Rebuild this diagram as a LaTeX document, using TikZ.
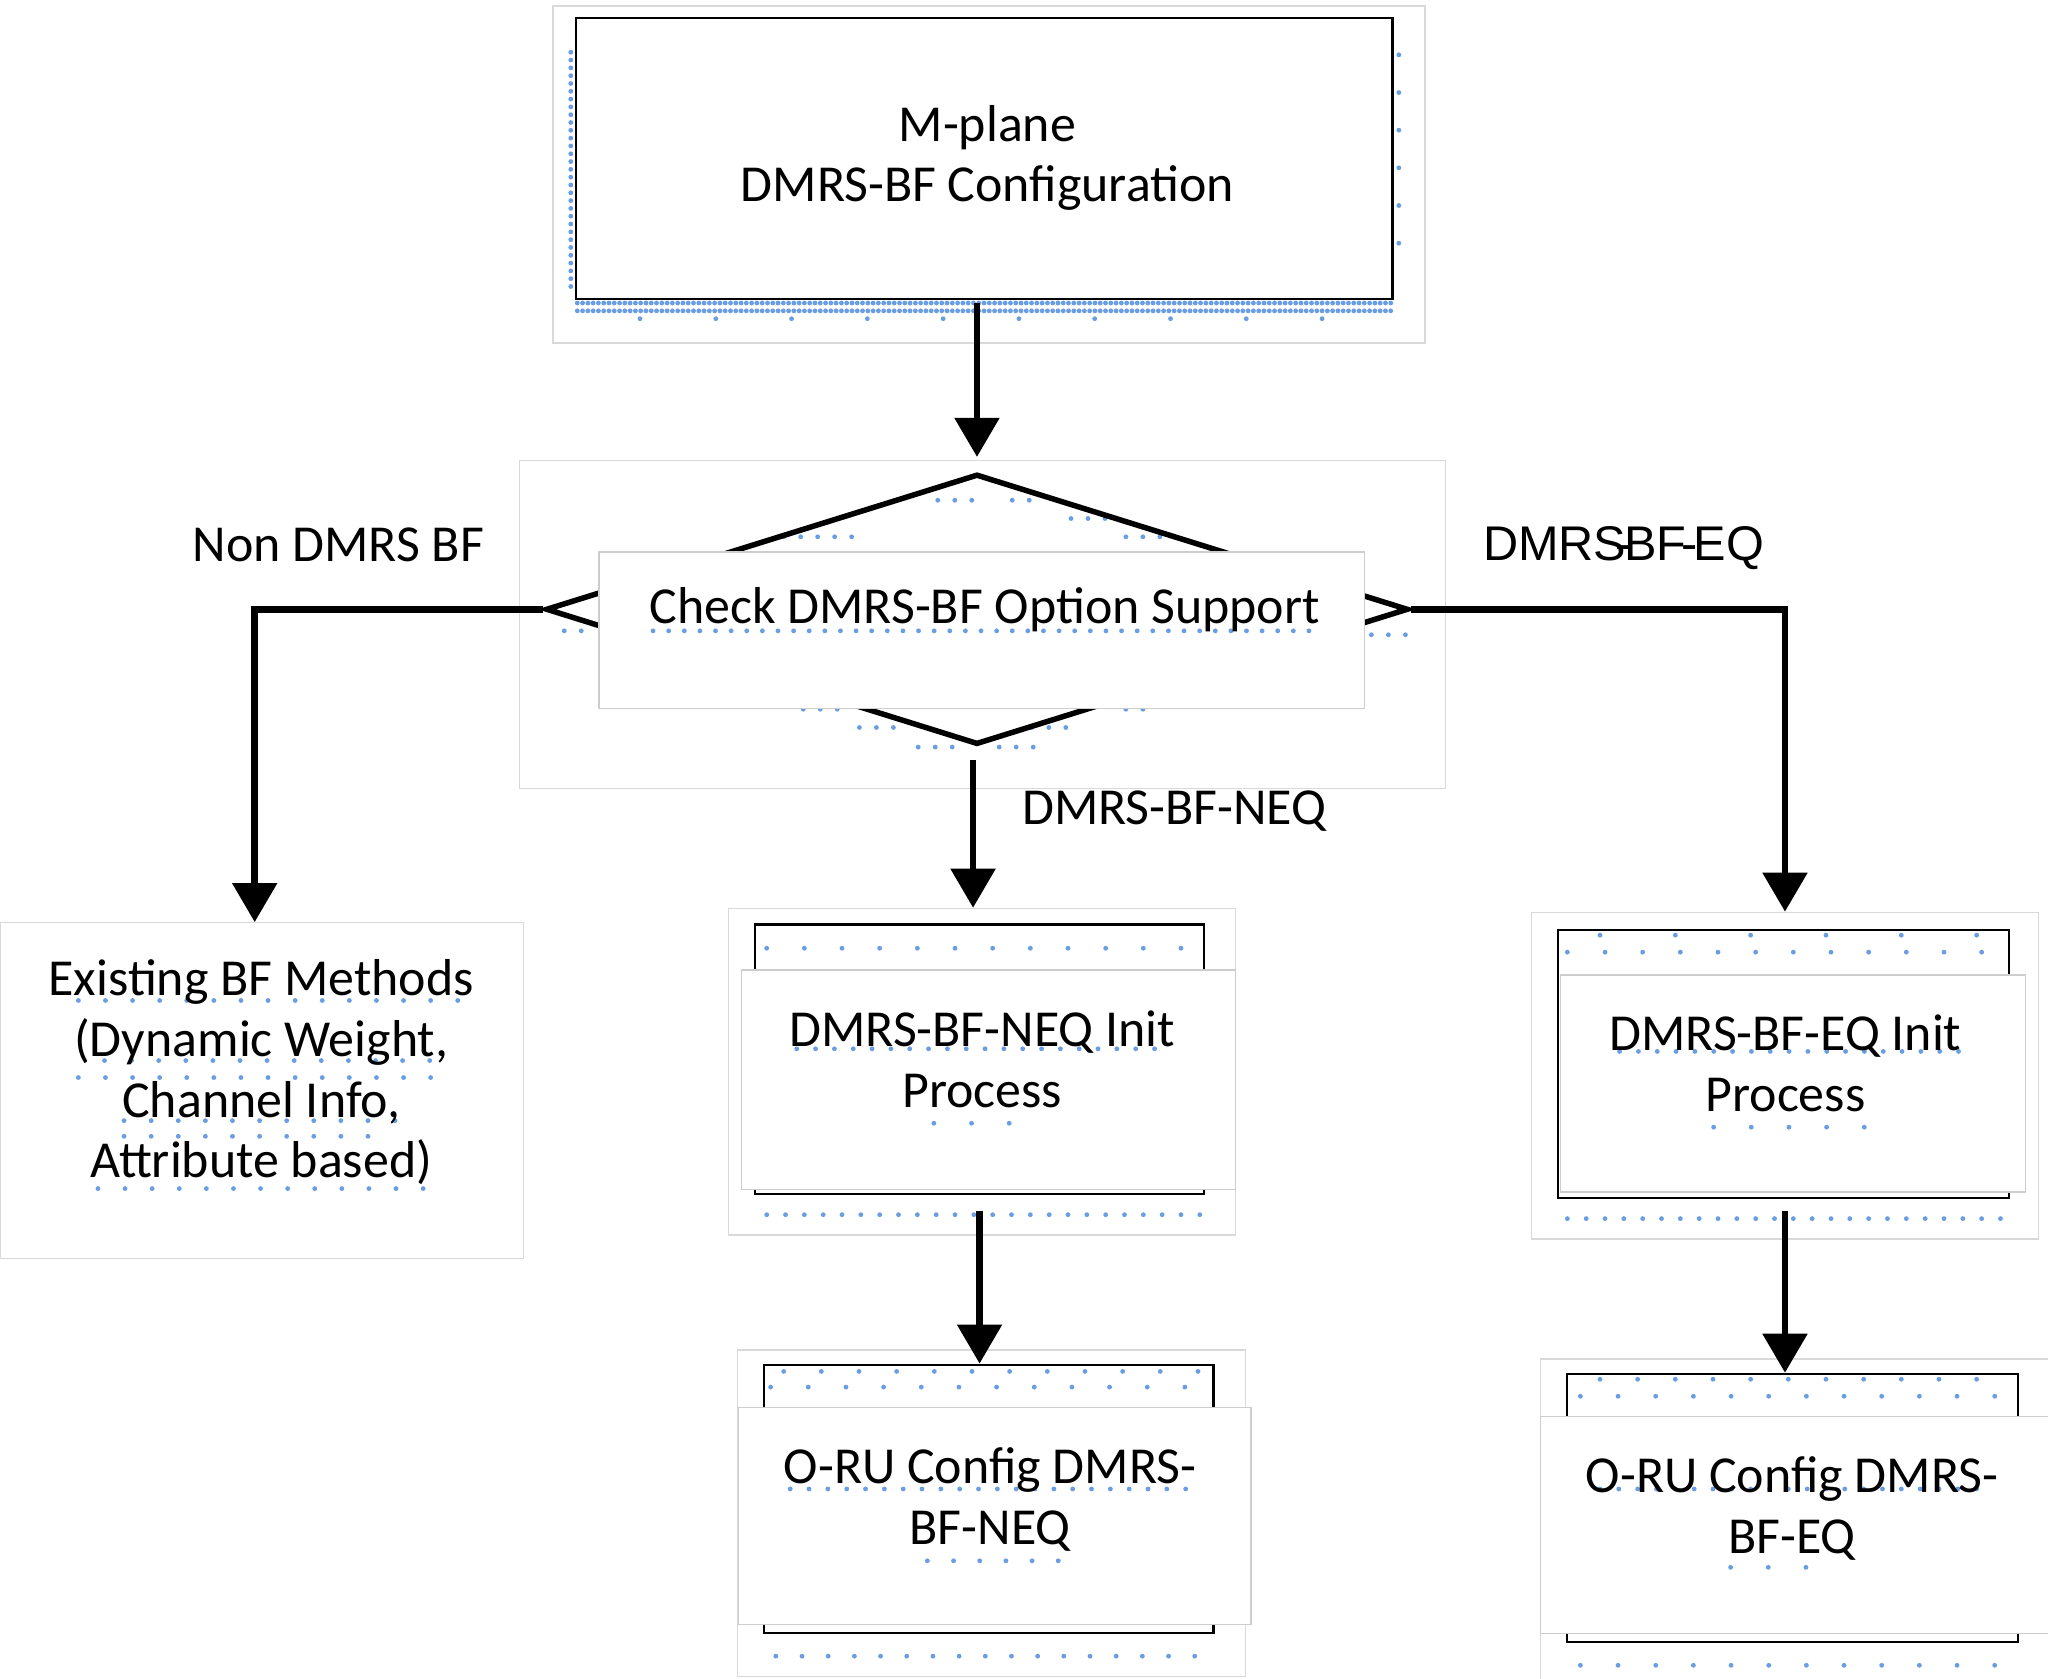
\documentclass[tikz,border=0pt]{standalone}
\usepackage{fontspec}
\setmainfont{Carlito}
\newfontfamily\arialfont{Liberation Sans}
\usetikzlibrary{shapes.geometric,arrows.meta,calc}
\definecolor{framegray}{RGB}{217,217,217}
\definecolor{covergray}{RGB}{205,205,205}
\definecolor{dotblue}{RGB}{105,158,226}
\begin{document}
\begin{tikzpicture}[x=0.01cm,y=-0.01cm,
  every node/.style={font=\fontsize{11.3}{13.2}\selectfont},
  frame/.style={draw=framegray,line width=0.3pt,fill=white,inner sep=0pt,anchor=north west},
  blackbox/.style={draw=black,line width=0.5pt,fill=white,inner sep=0pt,anchor=north west},
  cover/.style={draw=covergray,line width=0.3pt,fill=white,inner sep=0pt,anchor=north west},
  txt/.style={align=center,inner sep=0pt},
  conn/.style={line width=1.45pt,-{Triangle[width=9.5pt,length=8.5pt]}},
  lbl/.style={inner sep=0pt},
  dotrow/.style={draw=dotblue,line width=1.05pt,line cap=round,dash pattern=on 0pt off #1}]
\useasboundingbox (0,0) rectangle (1568,1285);

% ---- top box
\node[frame,minimum width=6.67cm,minimum height=2.58cm] (topf) at (423,4) {};
\draw[dotrow=1.15pt] (442,232) -- (1065,232);
\draw[dotrow=1.15pt] (442,238) -- (1065,238);
\draw[dotrow=16.5pt] (490,244) -- (1065,244);
\draw[dotrow=1.7pt] (437,40) -- (437,225);
\draw[dotrow=8.2pt] (1071,42) -- (1071,215);
\node[blackbox,minimum width=6.25cm,minimum height=2.15cm] (top) at (440,13) {};
\node[txt] (toptxt) at (756,121) {M-plane\\DMRS-BF Configuration};

% ---- decision
\node[frame,minimum width=7.09cm,minimum height=2.51cm] (decf) at (397,352) {};
\draw[dotrow=3.7pt] (718,383) -- (748,383);
\draw[dotrow=3.7pt] (775,383) -- (800,383);
\draw[dotrow=3.7pt] (820,397) -- (850,397);
\draw[dotrow=3.7pt] (600,411) -- (660,411);
\draw[dotrow=3.7pt] (862,411) -- (892,411);
\draw[dotrow=3.7pt] (615,543) -- (650,543);
\draw[dotrow=3.7pt] (658,557) -- (690,557);
\draw[dotrow=3.7pt] (790,557) -- (825,557);
\draw[dotrow=3.7pt] (862,543) -- (880,543);
\draw[dotrow=3.7pt] (703,572) -- (730,572);
\draw[dotrow=3.7pt] (765,572) -- (795,572);
\draw[dotrow=3.7pt] (432,483) -- (455,483);
\draw[dotrow=3.7pt] (1050,486) -- (1085,486);
\node[diamond,draw=black,line width=1.2pt,inner sep=0pt,minimum width=6.60cm,minimum height=2.07cm] (dia) at (748,466.5) {};
\node[cover,minimum width=5.86cm,minimum height=1.20cm] (decc) at (458,422) {};
\draw[dotrow=3.4pt] (500,483) -- (1010,483);
\node[txt] (dectxt) at (754,467) {Check DMRS-BF Option Support};

% ---- left box
\node[frame,minimum width=4.00cm,minimum height=2.57cm] (exist) at (0,706) {};
\draw[dotrow=5.9pt] (60,766) -- (360,766);
\draw[dotrow=5.9pt] (80,812) -- (340,812);
\draw[dotrow=5.9pt] (60,825) -- (340,825);
\draw[dotrow=5.9pt] (95,858) -- (310,858);
\draw[dotrow=5.9pt] (95,870) -- (300,870);
\draw[dotrow=5.9pt] (75,910) -- (325,910);
\node[txt] (existtxt) at (200,821) {Existing BF Methods\\(Dynamic Weight,\\Channel Info,\\Attribute based)};

% ---- NEQ init
\node[frame,minimum width=3.88cm,minimum height=2.50cm] (neqf) at (557,695) {};
\node[blackbox,minimum width=3.44cm,minimum height=2.06cm] (neq) at (577,707) {};
\draw[dotrow=8.2pt] (587,726) -- (921,726);
\draw[dotrow=4.1pt] (587,930) -- (921,930);
\node[cover,minimum width=3.78cm,minimum height=1.68cm] (neqc) at (567,742) {};
\draw[dotrow=4.1pt] (610,803) -- (895,803);
\draw[dotrow=8.2pt] (715,860) -- (800,860);
\node[txt] (neqtxt) at (752,811) {DMRS-BF-NEQ Init\\Process};

% ---- O-RU NEQ
\node[frame,minimum width=3.89cm,minimum height=2.50cm] (oruneqf) at (564,1033) {};
\node[blackbox,minimum width=3.44cm,minimum height=2.05cm] (oruneq) at (584,1044) {};
\draw[dotrow=8.2pt] (600,1050) -- (925,1050);
\draw[dotrow=8.2pt] (590,1062) -- (925,1062);
\draw[dotrow=5.7pt] (594,1268) -- (925,1268);
\node[cover,minimum width=3.92cm,minimum height=1.66cm] (oruneqc) at (565,1077) {};
\draw[dotrow=4.1pt] (605,1140) -- (910,1140);
\draw[dotrow=5.7pt] (710,1195) -- (815,1195);
\node[txt] (oruneqtxt) at (758,1148) {O-RU Config DMRS-\\BF-NEQ};

% ---- EQ init
\node[frame,minimum width=3.88cm,minimum height=2.50cm] (eqf) at (1172,698) {};
\node[blackbox,minimum width=3.45cm,minimum height=2.05cm] (eq) at (1192,711) {};
\draw[dotrow=16.4pt] (1225,716) -- (1535,716);
\draw[dotrow=8.2pt] (1200,729) -- (1535,729);
\draw[dotrow=4.1pt] (1200,933) -- (1537,933);
\node[cover,minimum width=3.56cm,minimum height=1.66cm] (eqc) at (1194,746) {};
\draw[dotrow=4.1pt] (1240,805) -- (1500,805);
\draw[dotrow=8.2pt] (1312,863) -- (1430,863);
\node[txt] (eqtxt) at (1367,814) {DMRS-BF-EQ Init\\Process};

% ---- O-RU EQ
\node[frame,minimum width=3.89cm,minimum height=2.45cm] (orueqf) at (1179,1040) {};
\node[blackbox,minimum width=3.45cm,minimum height=2.05cm] (orueq) at (1199,1051) {};
\draw[dotrow=8.2pt] (1225,1056) -- (1540,1056);
\draw[dotrow=8.2pt] (1210,1069) -- (1540,1069);
\draw[dotrow=8.2pt] (1210,1275) -- (1540,1275);
\node[cover,minimum width=3.89cm,minimum height=1.66cm] (orueqc) at (1179,1084) {};
\draw[dotrow=4.1pt] (1225,1140) -- (1525,1140);
\draw[dotrow=8.2pt] (1325,1200) -- (1410,1200);
\node[txt] (orueqtxt) at (1372,1155) {O-RU Config DMRS-\\BF-EQ};

% ---- labels
\node[lbl] (lnon) at (259,417) {Non DMRS BF};
\node[lbl] (lneq) at (899,621) {DMRS-BF-NEQ};
\node[lbl,font=\arialfont\fontsize{10.6}{13}\selectfont] (leq) at (1243,420) {DMRS\kern-2.5pt-\kern-1.5pt BF\kern-1pt-\kern-1pt EQ};

% ---- connectors
\coordinate (exarr) at (195,706);
\coordinate (midtop) at (745,582);
\coordinate (midend) at (745,695);
\draw[conn,shorten <=0.02cm,shorten >=0.11cm] (top.south -| dia.north) -- (dia.north);
\draw[conn] (dia.west) -| (exarr);
\draw[conn] (dia.east) -| (eqf.north);
\draw[conn] (midtop) -- (midend);
\draw[conn,shorten <=0.12cm] (neq.south) -- (neq.south |- oruneq.north);
\draw[conn,shorten <=0.09cm] (eq.south -| eqf.north) -- (eqf.north |- orueq.north);
\end{tikzpicture}
\end{document}
